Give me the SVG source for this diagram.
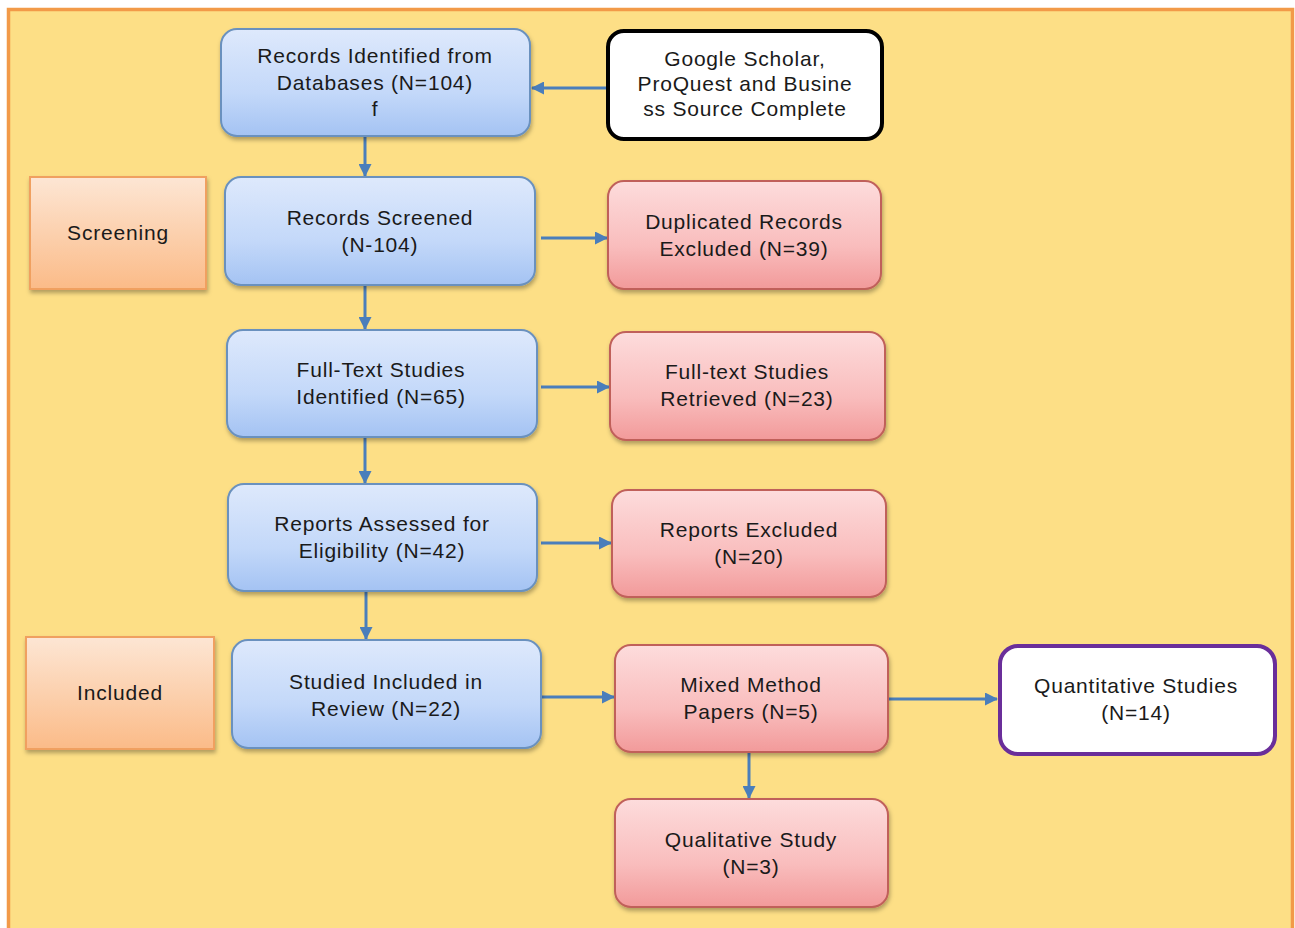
<svg xmlns="http://www.w3.org/2000/svg" width="1295" height="928" viewBox="0 0 1295 928">
<defs>
<linearGradient id="gBlue" x1="0" y1="0" x2="0" y2="1">
<stop offset="0" stop-color="#DEE9FC"/><stop offset="0.6" stop-color="#C3D8F9"/><stop offset="1" stop-color="#A4C3F3"/>
</linearGradient>
<linearGradient id="gRed" x1="0" y1="0" x2="0" y2="1">
<stop offset="0" stop-color="#FDDCDC"/><stop offset="0.6" stop-color="#F9BDBD"/><stop offset="1" stop-color="#F29A9A"/>
</linearGradient>
<linearGradient id="gOrange" x1="0" y1="0" x2="0" y2="1">
<stop offset="0" stop-color="#FDE6D4"/><stop offset="1" stop-color="#FBBB88"/>
</linearGradient>
<filter id="sh" x="-10%" y="-10%" width="125%" height="130%">
<feDropShadow dx="1" dy="3" stdDeviation="2" flood-color="#000" flood-opacity="0.3"/>
</filter>
<marker id="ah" markerWidth="13" markerHeight="13" refX="12" refY="6.5" orient="auto" markerUnits="userSpaceOnUse">
<path d="M0,0 L13,6.5 L0,13 Z" fill="#4A7EBB"/>
</marker>
</defs>
<style>
.blue{fill:url(#gBlue);stroke:#6A91BE;stroke-width:2;filter:url(#sh)}
.red{fill:url(#gRed);stroke:#C0605A;stroke-width:2;filter:url(#sh)}
.org{fill:url(#gOrange);stroke:#F0A060;stroke-width:2;filter:url(#sh)}
.white{fill:#FFFFFF;stroke:#000000;stroke-width:4}
.purple{fill:#FFFFFF;stroke:#6A2E9A;stroke-width:4}
text{font-family:"Liberation Sans",Arial,sans-serif;font-size:21px;letter-spacing:0.8px;fill:#1A1A1A;text-anchor:middle}
.conn line{stroke:#4A7EBB;stroke-width:3;marker-end:url(#ah)}
</style>
<rect x="0" y="0" width="1295" height="928" fill="#FFFFFF"/>
<rect x="8.5" y="9.5" width="1284" height="930" fill="#FDDF86" stroke="#F29A48" stroke-width="3.5"/>

<g class="conn">
<line x1="607" y1="88" x2="532" y2="88"/>
<line x1="365" y1="136" x2="365" y2="176"/>
<line x1="541" y1="238" x2="607" y2="238"/>
<line x1="365" y1="285" x2="365" y2="329"/>
<line x1="541" y1="387" x2="609" y2="387"/>
<line x1="365" y1="437" x2="365" y2="483"/>
<line x1="541" y1="543" x2="611" y2="543"/>
<line x1="366" y1="591" x2="366" y2="639"/>
<line x1="541" y1="697" x2="614" y2="697"/>
<line x1="888" y1="699" x2="997" y2="699"/>
<line x1="749" y1="752" x2="749" y2="798"/>
</g>

<g id="n-records-identified">
<rect class="blue" x="221" y="29" width="309" height="107" rx="16"/>
<text x="375" y="63">Records Identified from</text>
<text x="375" y="90">Databases (N=104)</text>
<text x="375" y="116">f</text>
</g>
<g id="n-google">
<rect class="white" x="608" y="31" width="274" height="108" rx="16"/>
<text x="745" y="66">Google Scholar,</text>
<text x="745" y="91">ProQuest and Busine</text>
<text x="745" y="116">ss Source Complete</text>
</g>
<g id="n-screening">
<rect class="org" x="30" y="177" width="176" height="112"/>
<text x="118" y="240">Screening</text>
</g>
<g id="n-records-screened">
<rect class="blue" x="225" y="177" width="310" height="108" rx="16"/>
<text x="380" y="225">Records Screened</text>
<text x="380" y="252">(N-104)</text>
</g>
<g id="n-duplicated">
<rect class="red" x="608" y="181" width="273" height="108" rx="16"/>
<text x="744" y="229">Duplicated Records</text>
<text x="744" y="256">Excluded (N=39)</text>
</g>
<g id="n-fulltext-identified">
<rect class="blue" x="227" y="330" width="310" height="107" rx="16"/>
<text x="381" y="377">Full-Text Studies</text>
<text x="381" y="404">Identified (N=65)</text>
</g>
<g id="n-fulltext-retrieved">
<rect class="red" x="610" y="332" width="275" height="108" rx="16"/>
<text x="747" y="379">Full-text Studies</text>
<text x="747" y="406">Retrieved (N=23)</text>
</g>
<g id="n-reports-assessed">
<rect class="blue" x="228" y="484" width="309" height="107" rx="16"/>
<text x="382" y="531">Reports Assessed for</text>
<text x="382" y="558">Eligibility  (N=42)</text>
</g>
<g id="n-reports-excluded">
<rect class="red" x="612" y="490" width="274" height="107" rx="16"/>
<text x="749" y="537">Reports Excluded</text>
<text x="749" y="564">(N=20)</text>
</g>
<g id="n-included">
<rect class="org" x="26" y="637" width="188" height="112"/>
<text x="120" y="700">Included</text>
</g>
<g id="n-studied-included">
<rect class="blue" x="232" y="640" width="309" height="108" rx="16"/>
<text x="386" y="689">Studied Included in</text>
<text x="386" y="716">Review (N=22)</text>
</g>
<g id="n-mixed">
<rect class="red" x="615" y="645" width="273" height="107" rx="16"/>
<text x="751" y="692">Mixed Method</text>
<text x="751" y="719">Papers (N=5)</text>
</g>
<g id="n-quantitative">
<rect class="purple" x="1000" y="646" width="275" height="108" rx="18"/>
<text x="1136" y="693">Quantitative Studies</text>
<text x="1136" y="720">(N=14)</text>
</g>
<g id="n-qualitative">
<rect class="red" x="615" y="799" width="273" height="108" rx="16"/>
<text x="751" y="847">Qualitative Study</text>
<text x="751" y="874">(N=3)</text>
</g>
</svg>
